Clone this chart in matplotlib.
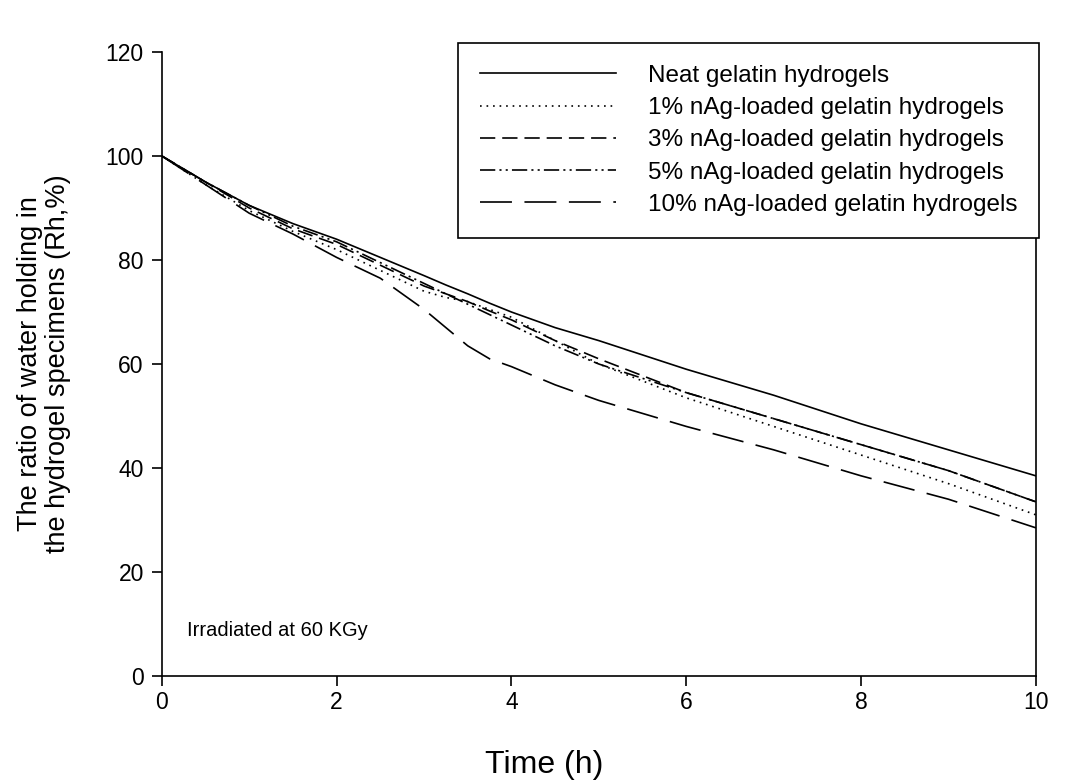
import matplotlib
matplotlib.use('Agg')
from matplotlib import pyplot as plt

plt.rcParams['font.family'] = ['Liberation Sans', 'DejaVu Sans']
plt.rcParams['lines.scale_dashes'] = False

TIME_H = [0, 0.5, 1, 1.5, 2, 2.5, 3, 3.25, 3.5, 3.75, 4, 4.5, 5, 6, 7, 8, 9, 10]

NEAT = [100, 95, 90.5, 87, 84, 80.5, 77, 75.2, 73.5, 71.7, 70, 67, 64.5, 59, 54, 48.5, 43.5, 38.5]
AG_1 = [100, 94.5, 89.5, 85.5, 82, 78, 74, 72.8, 72, 70.5, 69, 64.5, 60, 53.5, 48, 42.5, 37, 31]
AG_3 = [100, 95, 90, 86, 83, 79, 75, 73.5, 72, 70.2, 68.5, 64.5, 61, 54.5, 49.5, 44.5, 39.5, 33.5]
AG_5 = [100, 95, 90.5, 86.5, 83.5, 79.5, 75.5, 73.5, 71.5, 69.5, 67.5, 63.5, 60, 54.5, 49.5, 44.5, 39.5, 33.5]
AG_10 = [100, 94.5, 89, 85, 80.5, 76.5, 70.5, 67, 63.5, 61, 59.5, 56, 53, 48, 43.5, 38.5, 34, 28.5]

LABELS = ['Neat gelatin hydrogels',
          '1% nAg-loaded gelatin hydrogels',
          '3% nAg-loaded gelatin hydrogels',
          '5% nAg-loaded gelatin hydrogels',
          '10% nAg-loaded gelatin hydrogels']

STYLES = ['-',
          (0, (1.2, 3.5)),
          (0, (11, 5)),
          (0, (11, 3, 1.5, 3, 1.5, 3)),
          (0, (23, 9))]

fig = plt.figure(figsize=(10.79, 7.8), dpi=100)
ax = fig.add_axes([0.150, 0.1333, 0.810, 0.800])

for series, label, ls in zip([NEAT, AG_1, AG_3, AG_5, AG_10], LABELS, STYLES):
    ax.plot(TIME_H, series, color='black', linestyle=ls, linewidth=1.2, label=label)

ax.set_xlim(0, 10)
ax.set_ylim(0, 120)
ax.set_xticks([0, 2, 4, 6, 8, 10])
ax.set_yticks([0, 20, 40, 60, 80, 100, 120])
ax.spines['top'].set_visible(False)
for s in ['left', 'bottom', 'right']:
    ax.spines[s].set_linewidth(1.2)
ax.tick_params(axis='both', direction='out', length=7, width=1.2, labelsize=16.5)
ax.tick_params(axis='x', pad=4)
ax.tick_params(axis='y', pad=6)

ax.set_xlabel('Time (h)', fontsize=23)
ax.xaxis.set_label_coords(0.438, -0.118)
ax.set_ylabel('The ratio of water holding in\nthe hydrogel specimens (Rh,%)',
              fontsize=19.5, linespacing=1.1)
ax.yaxis.set_label_coords(-0.104, 0.5)

ax.text(0.286, 8.85, 'Irradiated at 60 KGy', fontsize=14.5, va='center', ha='left')

leg = ax.legend(loc='upper left', bbox_to_anchor=(0.4245, 0.9449),
                bbox_transform=fig.transFigure, borderaxespad=0,
                fontsize=17.5, handlelength=5.6, handletextpad=1.3, labelspacing=0.42,
                borderpad=0.9, fancybox=False, frameon=True, framealpha=1.0)
leg.get_frame().set_edgecolor('black')
leg.get_frame().set_linewidth(1.2)

fig.savefig('out.png', dpi=100)
